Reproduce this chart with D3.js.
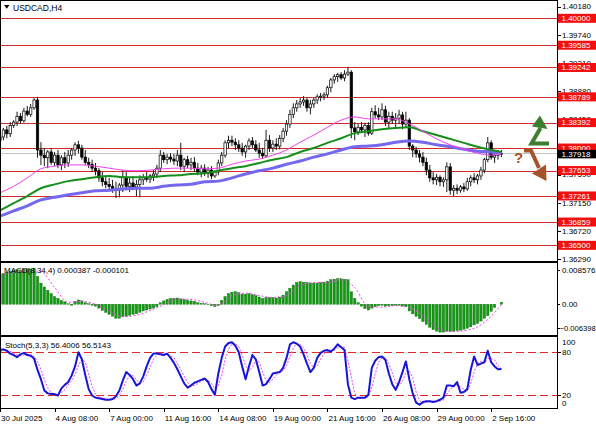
<!DOCTYPE html>
<html><head><meta charset="utf-8">
<script src="https://cdn.jsdelivr.net/npm/d3@7"></script>
<style>
html,body{margin:0;padding:0;background:#fff;}
svg{display:block;font-family:"Liberation Sans",Arial,sans-serif;}
</style></head><body>
<svg id="c" width="596" height="425"></svg>
<script>
// ---------------- DATA ----------------
const symbolTitle = "USDCAD,H4";
const opens = [
1.3812,1.3817,1.3828,1.3822,1.3835,1.3840,1.3849,1.3842,1.3857,1.3852,1.3862,1.3874,
1.3797,1.3789,1.3785,1.3794,1.3778,1.3789,1.3774,1.3785,1.3777,1.3789,1.3797,1.3805,
1.3800,1.3786,1.3778,1.3775,1.3769,1.3765,1.3754,1.3748,1.3744,1.3741,1.3737,1.3735,
1.3743,1.3755,1.3741,1.3746,1.3740,1.3744,1.3751,1.3755,1.3752,1.3757,1.3760,1.3769,
1.3789,1.3782,1.3786,1.3783,1.3780,1.3789,1.3772,1.3782,1.3774,1.3778,1.3769,1.3763,
1.3769,1.3761,1.3766,1.3757,1.3763,1.3777,1.3789,1.3808,1.3812,1.3809,1.3805,1.3800,
1.3794,1.3803,1.3811,1.3805,1.3797,1.3792,1.3788,1.3812,1.3800,1.3806,1.3803,1.3815,
1.3826,1.3837,1.3852,1.3862,1.3868,1.3871,1.3874,1.3862,1.3868,1.3874,1.3879,1.3880,
1.3882,1.3893,1.3905,1.3910,1.3913,1.3908,1.3914,1.3917,1.3831,1.3825,1.3832,1.3828,
1.3835,1.3823,1.3856,1.3851,1.3848,1.3859,1.3840,1.3849,1.3843,1.3846,1.3851,1.3837,
1.3843,1.3803,1.3797,1.3791,1.3786,1.3778,1.3766,1.3754,1.3751,1.3755,1.3748,1.3751,
1.3771,1.3735,1.3738,1.3735,1.3740,1.3737,1.3748,1.3754,1.3751,1.3757,1.3766,1.3782,
1.3808,1.3786,1.3789,1.3790];
const highs = [
1.3825,1.3831,1.3834,1.3840,1.3843,1.3856,1.3854,1.3862,1.3865,1.3868,1.3877,1.3879,
1.3809,1.3800,1.3797,1.3800,1.3794,1.3797,1.3789,1.3794,1.3797,1.3800,1.3809,1.3811,
1.3805,1.3797,1.3785,1.3782,1.3777,1.3769,1.3763,1.3758,1.3754,1.3751,1.3748,1.3746,
1.3766,1.3763,1.3754,1.3757,1.3751,1.3758,1.3760,1.3763,1.3760,1.3766,1.3774,1.3797,
1.3794,1.3791,1.3792,1.3791,1.3797,1.3808,1.3785,1.3788,1.3785,1.3786,1.3777,1.3774,
1.3775,1.3771,1.3772,1.3766,1.3782,1.3794,1.3812,1.3819,1.3819,1.3815,1.3812,1.3808,
1.3805,1.3815,1.3817,1.3812,1.3808,1.3800,1.3828,1.3820,1.3812,1.3815,1.3820,1.3831,
1.3843,1.3859,1.3869,1.3874,1.3877,1.3880,1.3877,1.3874,1.3877,1.3883,1.3885,1.3886,
1.3896,1.3908,1.3914,1.3916,1.3917,1.3920,1.3925,1.3920,1.3840,1.3837,1.3840,1.3839,
1.3840,1.3862,1.3866,1.3862,1.3869,1.3865,1.3856,1.3856,1.3854,1.3859,1.3856,1.3856,
1.3846,1.3806,1.3802,1.3797,1.3794,1.3785,1.3774,1.3763,1.3760,1.3758,1.3755,1.3778,
1.3777,1.3743,1.3744,1.3743,1.3746,1.3754,1.3758,1.3761,1.3760,1.3771,1.3785,1.3817,
1.3812,1.3797,1.3797,1.3797];
const lows = [
1.3802,1.3812,1.3815,1.3817,1.3831,1.3834,1.3837,1.3839,1.3849,1.3848,1.3859,1.3785,
1.3774,1.3772,1.3769,1.3774,1.3772,1.3769,1.3766,1.3769,1.3771,1.3782,1.3788,1.3792,
1.3782,1.3774,1.3769,1.3763,1.3758,1.3748,1.3741,1.3738,1.3735,1.3731,1.3723,1.3724,
1.3732,1.3735,1.3732,1.3735,1.3726,1.3724,1.3743,1.3748,1.3746,1.3749,1.3754,1.3763,
1.3777,1.3775,1.3778,1.3774,1.3772,1.3766,1.3763,1.3769,1.3766,1.3763,1.3758,1.3755,
1.3757,1.3754,1.3752,1.3754,1.3758,1.3772,1.3785,1.3800,1.3803,1.3797,1.3794,1.3788,
1.3785,1.3797,1.3800,1.3794,1.3785,1.3783,1.3785,1.3794,1.3794,1.3797,1.3798,1.3809,
1.3819,1.3831,1.3846,1.3856,1.3862,1.3865,1.3856,1.3852,1.3862,1.3868,1.3872,1.3874,
1.3877,1.3886,1.3899,1.3902,1.3905,1.3903,1.3911,1.3815,1.3812,1.3820,1.3823,1.3817,
1.3819,1.3820,1.3846,1.3843,1.3843,1.3834,1.3831,1.3837,1.3832,1.3837,1.3829,1.3832,
1.3797,1.3786,1.3785,1.3778,1.3772,1.3758,1.3748,1.3744,1.3743,1.3741,1.3740,1.3732,
1.3728,1.3726,1.3729,1.3731,1.3732,1.3734,1.3741,1.3746,1.3744,1.3751,1.3761,1.3778,
1.3782,1.3777,1.3782,1.3786];
const closes = [
1.3817,1.3828,1.3822,1.3835,1.3840,1.3849,1.3842,1.3857,1.3852,1.3862,1.3874,1.3797,
1.3789,1.3785,1.3794,1.3778,1.3789,1.3774,1.3785,1.3777,1.3789,1.3797,1.3805,1.3800,
1.3786,1.3778,1.3775,1.3769,1.3765,1.3754,1.3748,1.3744,1.3741,1.3737,1.3735,1.3743,
1.3755,1.3741,1.3746,1.3740,1.3744,1.3751,1.3755,1.3752,1.3757,1.3760,1.3769,1.3789,
1.3782,1.3786,1.3783,1.3780,1.3789,1.3772,1.3782,1.3774,1.3778,1.3769,1.3763,1.3769,
1.3761,1.3766,1.3757,1.3763,1.3777,1.3789,1.3808,1.3812,1.3809,1.3805,1.3800,1.3794,
1.3803,1.3811,1.3805,1.3797,1.3792,1.3788,1.3812,1.3800,1.3806,1.3803,1.3815,1.3826,
1.3837,1.3852,1.3862,1.3868,1.3871,1.3874,1.3862,1.3868,1.3874,1.3879,1.3880,1.3882,
1.3893,1.3905,1.3910,1.3913,1.3908,1.3914,1.3917,1.3831,1.3825,1.3832,1.3828,1.3835,
1.3823,1.3856,1.3851,1.3848,1.3859,1.3840,1.3849,1.3843,1.3846,1.3851,1.3837,1.3843,
1.3803,1.3797,1.3791,1.3786,1.3778,1.3766,1.3754,1.3751,1.3755,1.3748,1.3751,1.3771,
1.3735,1.3738,1.3735,1.3740,1.3737,1.3748,1.3754,1.3751,1.3757,1.3766,1.3782,1.3808,
1.3786,1.3789,1.3792,1.37918];

// moving averages sampled every 4 bars (last one at the final bar)
const maFast = [1.3731,1.3741,1.3754,1.3768,1.3772,1.3774,1.3774,1.3772,1.3769,1.3766,1.3765,1.3766,
1.3768,1.3769,1.3769,1.3768,1.3769,1.3775,1.3780,1.3783,1.3789,1.3797,1.3809,1.3820,
1.3832,1.3843,1.3848,1.3845,1.3845,1.3845,1.3837,1.3826,1.3814,1.3805,1.3798,1.3792,1.3789,1.3792];
const maMid = [1.3704,1.3715,1.3726,1.3738,1.3744,1.3749,1.3752,1.3755,1.3757,1.3755,1.3755,1.3755,
1.3757,1.3758,1.3760,1.3761,1.3765,1.3769,1.3772,1.3777,1.3782,1.3786,1.3794,1.3800,
1.3808,1.3815,1.3823,1.3826,1.3829,1.3831,1.3832,1.3826,1.3820,1.3814,1.3808,1.3802,1.3797,1.3794];
const maSlow = [1.3695,1.3703,1.3711,1.3720,1.3724,1.3728,1.3731,1.3734,1.3735,1.3737,1.3738,1.3738,
1.3741,1.3743,1.3744,1.3748,1.3749,1.3754,1.3760,1.3765,1.3769,1.3775,1.3780,1.3786,
1.3791,1.3797,1.3802,1.3803,1.3805,1.3809,1.3811,1.3809,1.3805,1.3802,1.3798,1.3795,1.3794,1.3792];

const macdHist = [
0.0062,0.0064,0.0066,0.0068,0.0070,0.0072,0.0071,0.0073,0.0074,0.0073,0.0075,0.0058,
0.0044,0.0036,0.0029,0.0022,0.0016,0.0012,0.0008,0.0005,0.0001,-0.0002,0.0006,0.0009,
0.0007,0.0003,0.0001,-0.0002,-0.0004,-0.0008,-0.0013,-0.0017,-0.0021,-0.0025,-0.0029,-0.0029,
-0.0026,-0.0025,-0.0023,-0.0021,-0.0020,-0.0017,-0.0014,-0.0012,-0.0010,-0.0008,-0.0005,0.0003,
0.0007,0.0010,0.0012,0.0012,0.0013,0.0011,0.0010,0.0008,0.0007,0.0006,0.0003,0.0002,
0.0001,-0.0001,-0.0003,-0.0005,-0.0002,0.0008,0.0016,0.0022,0.0025,0.0026,0.0024,0.0021,
0.0021,0.0022,0.0020,0.0018,0.0015,0.0012,0.0014,0.0014,0.0014,0.0013,0.0015,0.0019,
0.0026,0.0033,0.0040,0.0045,0.0047,0.0046,0.0045,0.0044,0.0044,0.0044,0.0045,0.0046,
0.0048,0.0051,0.0052,0.0053,0.0053,0.0052,0.0051,0.0026,0.0012,0.0003,-0.0004,-0.0009,
-0.0012,-0.0008,-0.0005,-0.0003,-0.0002,-0.0004,-0.0003,-0.0003,-0.0002,-0.0002,-0.0004,-0.0005,
-0.0014,-0.0020,-0.0025,-0.0030,-0.0036,-0.0042,-0.0048,-0.0053,-0.0056,-0.0058,-0.0058,-0.0056,
-0.0057,-0.0056,-0.0055,-0.0054,-0.0052,-0.0050,-0.0047,-0.0043,-0.0040,-0.0035,-0.0029,-0.0024,
-0.0015,-0.0007,0.0000,0.0004];
const macdSignal = [0.0060,0.0066,0.0070,0.0068,0.0035,0.0004,0.0006,0.0000,-0.0014,-0.0026,-0.0023,-0.0013,
-0.0001,0.0011,0.0010,0.0004,-0.0003,0.0018,0.0023,0.0018,0.0014,0.0018,0.0040,0.0045,
0.0045,0.0051,0.0035,-0.0005,-0.0006,-0.0003,-0.0007,-0.0025,-0.0048,-0.0057,-0.0055,-0.0047,-0.0025,-0.0001];
const macdMax = 0.008576, macdMin = -0.006398;
const macdTitle = "MACD(8,34,4) 0.000387 -0.000101";

const stochK = [
83,84,82,78,76,73,77,79,76,75,71,55,
42,26,22,21,21,19,29,34,38,47,60,80,
70,48,28,19,16,15,14,13,13,14,18,26,
40,52,48,42,33,36,46,60,72,78,78,77,
76,78,72,65,56,46,36,30,33,37,39,41,
43,38,28,20,50,72,88,93,94,89,80,60,
42,60,76,70,52,33,35,42,50,51,52,58,
72,91,94,92,88,77,64,52,58,72,79,82,
83,81,85,91,87,83,35,16,14,16,16,16,
20,58,68,73,74,69,50,35,27,38,52,67,
42,22,9,6,10,11,11,10,11,13,16,33,
33,32,38,23,24,28,55,74,62,64,66,82,
66,60,56,56.4];
const stochD = [
80,82,83,81,79,76,75,76,77,77,74,67,
56,41,30,23,21,20,23,27,34,40,48,62,
70,66,49,32,21,17,15,14,13,13,15,19,
28,39,47,47,41,37,38,47,59,70,76,78,
77,77,75,72,64,56,46,37,33,33,36,39,
41,41,36,29,33,47,70,84,92,92,88,76,
61,54,59,69,66,52,40,37,42,48,51,54,
61,74,86,92,91,86,76,64,58,61,70,78,
81,82,83,86,88,87,68,45,22,15,15,16,
17,31,49,66,72,72,64,51,37,33,39,52,
54,44,24,12,8,9,11,11,11,11,13,21,
27,33,34,31,28,25,36,52,64,67,64,71,
71,69,61,56.5];
const stochTitle = "Stoch(5,3,3) 56.4006 56.5143";
const stochLevels = [80, 20];

const levels = [1.40000,1.39585,1.39242,1.38789,1.38392,1.38000,1.37653,1.37261,1.36859,1.36500];
const priceTicks = [1.4018,1.3974,1.3931,1.3888,1.3845,1.3802,1.3759,1.3715,1.3672,1.3629];
const lastPrice = 1.37918;
const dateTickBars = [0,16,32,48,64,80,96,112,128,144];
const dateTickLabels = ["30 Jul 2025","4 Aug 08:00","7 Aug 00:00","11 Aug 16:00","14 Aug 08:00",
  "19 Aug 00:00","21 Aug 16:00","26 Aug 08:00","29 Aug 00:00","2 Sep 16:00"];

// ---------------- DRAW ----------------
const svg = d3.select('#c');
const RIGHT = 557;
const bars = d3.range(closes.length);
const maBars = d3.range(0, 145, 4).concat([closes.length - 1]);

const x = d3.scaleLinear().domain([0, 163.3]).range([0, RIGHT]);
const yP = d3.scaleLinear().domain([1.36243, 1.40267]).range([262, 1]);
const yM = d3.scaleLinear().domain([macdMin, macdMax]).range([335, 263]);
const yS = d3.scaleLinear().domain([0, 100]).range([409, 338]);

const defs = svg.append('defs');
function clip(id, y0, y1) {
  defs.append('clipPath').attr('id', id).append('rect')
    .attr('x', 1).attr('y', y0).attr('width', RIGHT - 1).attr('height', y1 - y0);
}
clip('cm', 1, 261); clip('cd', 263, 335); clip('cs', 337, 408);

const FS = 8;
const AX = '#000';

// ---- main panel ----
const gMain = svg.append('g').attr('clip-path', 'url(#cm)');
gMain.selectAll('line.lvl').data(levels).join('line')
  .attr('x1', 0).attr('x2', RIGHT)
  .attr('y1', d => Math.round(yP(d)) + 0.5).attr('y2', d => Math.round(yP(d)) + 0.5)
  .attr('stroke', '#d42a2a').attr('stroke-width', 1);
gMain.append('line').attr('x1', 0).attr('x2', RIGHT)
  .attr('y1', Math.round(yP(lastPrice)) + 0.5).attr('y2', Math.round(yP(lastPrice)) + 0.5)
  .attr('stroke', '#c4c4c4').attr('stroke-width', 1);

// candles
gMain.selectAll('line.wick').data(bars).join('line').attr('class', 'wick')
  .attr('x1', i => x(i)).attr('x2', i => x(i))
  .attr('y1', i => yP(highs[i])).attr('y2', i => yP(lows[i]))
  .attr('stroke', '#000').attr('stroke-width', 0.9);
gMain.selectAll('rect.body').data(bars).join('rect').attr('class', 'body')
  .attr('x', i => x(i) - 1.2).attr('width', 2.4)
  .attr('y', i => yP(Math.max(opens[i], closes[i])))
  .attr('height', i => Math.max(1, Math.abs(yP(opens[i]) - yP(closes[i]))))
  .attr('fill', i => closes[i] >= opens[i] ? '#fff' : '#000')
  .attr('stroke', '#000').attr('stroke-width', 0.7);

// moving averages
const maLine = arr => d3.line().curve(d3.curveMonotoneX)
  .x((d, k) => x(maBars[k])).y(d => yP(d))(arr);
gMain.append('path').attr('d', maLine(maSlow)).attr('fill', 'none')
  .attr('stroke', '#7468ee').attr('stroke-width', 3);
gMain.append('path').attr('d', maLine(maMid)).attr('fill', 'none')
  .attr('stroke', '#14901a').attr('stroke-width', 2);
gMain.append('path').attr('d', maLine(maFast)).attr('fill', 'none')
  .attr('stroke', '#f040f0').attr('stroke-width', 1);

// title
svg.append('path').attr('d', 'M4,5 L9.5,5 L6.75,8.8 Z').attr('fill', '#000');
svg.append('text').attr('x', 13).attr('y', 10.5).attr('font-size', 8.5).attr('fill', '#000').text(symbolTitle);

// annotation arrows
const green = '#3c7d2e', brown = '#a4532b';
svg.append('path').attr('d', 'M549,143.5 L531.5,143.5 L540.5,128')
  .attr('fill', 'none').attr('stroke', green).attr('stroke-width', 4).attr('stroke-linejoin', 'miter');
svg.append('path').attr('d', 'M540,115.5 L547.5,129 L532,126.5 Z').attr('fill', green);
svg.append('path').attr('d', 'M524,150.5 L531,150.5 L539,168')
  .attr('fill', 'none').attr('stroke', brown).attr('stroke-width', 4).attr('stroke-linejoin', 'miter');
svg.append('path').attr('d', 'M546.5,181 L532,173.5 L546,164.5 Z').attr('fill', brown);
svg.append('text').attr('x', 514).attr('y', 163).attr('font-size', 15).attr('font-weight', 'bold')
  .attr('fill', brown).text('?');

// ---- MACD panel ----
const gM = svg.append('g').attr('clip-path', 'url(#cd)');
gM.selectAll('rect').data(bars).join('rect')
  .attr('x', i => x(i) - 1.2).attr('width', 2.4)
  .attr('y', i => Math.min(yM(0), yM(macdHist[i])))
  .attr('height', i => Math.abs(yM(macdHist[i]) - yM(0)))
  .attr('fill', '#139a13').attr('stroke', '#0a700a').attr('stroke-width', 0.4);
gM.append('path').attr('d', d3.line().curve(d3.curveMonotoneX)
    .x((d, k) => x(maBars[k])).y(d => yM(d))(macdSignal))
  .attr('fill', 'none').attr('stroke', '#f040f0').attr('stroke-width', 1).attr('stroke-dasharray', '2,2');
svg.append('text').attr('x', 4).attr('y', 273).attr('font-size', FS).attr('fill', '#000').text(macdTitle);

// ---- Stoch panel ----
const gS = svg.append('g').attr('clip-path', 'url(#cs)');
gS.selectAll('line.sl').data(stochLevels).join('line')
  .attr('x1', 0).attr('x2', RIGHT)
  .attr('y1', d => Math.round(yS(d)) + 0.5).attr('y2', d => Math.round(yS(d)) + 0.5)
  .attr('stroke', '#e02828').attr('stroke-width', 1).attr('stroke-dasharray', '8,4');
gS.append('path').attr('d', d3.line().x(i => x(i)).y(i => yS(stochD[i]))(bars))
  .attr('fill', 'none').attr('stroke', '#f040f0').attr('stroke-width', 1).attr('stroke-dasharray', '2,1.5');
gS.append('path').attr('d', d3.line().x(i => x(i)).y(i => yS(stochK[i]))(bars))
  .attr('fill', 'none').attr('stroke', '#1616d8').attr('stroke-width', 2).attr('stroke-linejoin', 'round');
svg.append('text').attr('x', 5).attr('y', 348).attr('font-size', FS).attr('fill', '#000').text(stochTitle);

// ---- frames ----
const frames = [[0.5, 261.5], [262.5, 335.5], [336.5, 408.5]];
frames.forEach(([t, b]) => {
  svg.append('rect').attr('x', 0.5).attr('y', t).attr('width', RIGHT).attr('height', b - t)
    .attr('fill', 'none').attr('stroke', AX).attr('stroke-width', 1);
});

// ---- right price axis ----
const ax = svg.append('g');
ax.selectAll('line.pt').data(priceTicks).join('line')
  .attr('x1', RIGHT + 0.5).attr('x2', RIGHT + 4)
  .attr('y1', d => Math.round(yP(d)) + 0.5).attr('y2', d => Math.round(yP(d)) + 0.5)
  .attr('stroke', AX);
ax.selectAll('text.pt').data(priceTicks).join('text')
  .attr('x', 562).attr('y', d => yP(d)).attr('dy', '0.35em')
  .attr('font-size', FS).attr('fill', '#000').text(d => d3.format('.5f')(d));

// level labels
const lab = svg.append('g');
levels.forEach(l => {
  const yy = yP(l);
  lab.append('rect').attr('x', 558).attr('y', yy - 4.5).attr('width', 38).attr('height', 9).attr('fill', '#f20f0f');
  lab.append('text').attr('x', 561.5).attr('y', yy).attr('dy', '0.35em').attr('font-size', FS)
    .attr('fill', '#fff').text(d3.format('.5f')(l));
});
{
  const yy = yP(lastPrice);
  lab.append('rect').attr('x', 558).attr('y', yy - 3.5).attr('width', 38).attr('height', 8.5).attr('fill', '#000');
  lab.append('text').attr('x', 561.5).attr('y', yy + 0.6).attr('dy', '0.35em').attr('font-size', FS)
    .attr('fill', '#fff').text(d3.format('.5f')(lastPrice));
}

// MACD axis
const macdLabels = [[macdMax, yM(macdMax) + 7, d3.format('.6f')(macdMax), 562, FS],
                    [0, yM(0), '0.00', 562, FS],
                    [macdMin, yM(macdMin) - 7, d3.format('.6f')(macdMin), 559.5, 7.6]];
macdLabels.forEach(([v, yy, t, tx, fs]) => {
  ax.append('line').attr('x1', RIGHT + 0.5).attr('x2', RIGHT + 3)
    .attr('y1', Math.round(yy) + 0.5).attr('y2', Math.round(yy) + 0.5).attr('stroke', AX);
  ax.append('text').attr('x', tx).attr('y', yy).attr('dy', '0.35em').attr('font-size', fs).text(t);
});
// Stoch axis
const stochAxis = [[100, yS(100) + 4, false], [80, yS(80), true], [20, yS(20), true], [0, yS(0) - 6, false]];
stochAxis.forEach(([v, yy, tick]) => {
  if (tick) ax.append('line').attr('x1', RIGHT + 0.5).attr('x2', RIGHT + 4)
    .attr('y1', Math.round(yy) + 0.5).attr('y2', Math.round(yy) + 0.5).attr('stroke', AX);
  ax.append('text').attr('x', 562).attr('y', yy).attr('dy', '0.35em').attr('font-size', FS).text(v);
});

// ---- date axis ----
ax.selectAll('line.dt').data(dateTickBars).join('line')
  .attr('x1', d => Math.round(x(d)) + 0.5).attr('x2', d => Math.round(x(d)) + 0.5)
  .attr('y1', 408.5).attr('y2', 412).attr('stroke', AX);
ax.selectAll('text.dt').data(dateTickBars).join('text')
  .attr('x', d => Math.max(1, x(d) + 1)).attr('y', 420.5)
  .attr('font-size', FS).attr('fill', '#000').text((d, k) => dateTickLabels[k]);
</script>
</body></html>
